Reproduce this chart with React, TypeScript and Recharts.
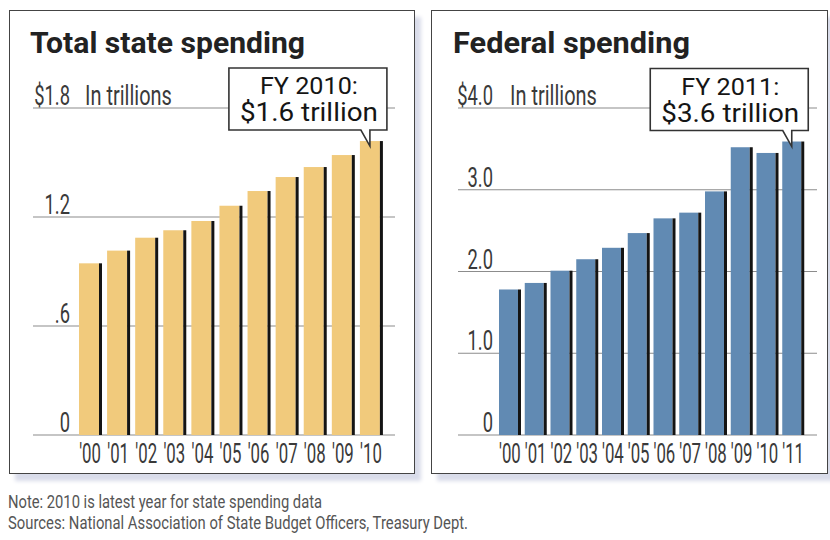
import React from "react";
import { BarChart, Bar, XAxis, YAxis, CartesianGrid } from "recharts";

// State spending, fiscal years 2000-2010, trillions of dollars
const STATE_YEARS = ["'00", "'01", "'02", "'03", "'04", "'05", "'06", "'07", "'08", "'09", "'10"];
const STATE_VALUES = [0.945, 1.015, 1.086, 1.127, 1.178, 1.262, 1.343, 1.42, 1.475, 1.541, 1.618];
const STATE_TICKS = [0, 0.6, 1.2, 1.8];
const STATE_TICK_LABELS = ["0", ".6", "1.2", "$1.8"];
const STATE_CALLOUT = ["FY 2010:", "$1.6 trillion"];

// Federal spending, fiscal years 2000-2011, trillions of dollars
const FED_YEARS = ["'00", "'01", "'02", "'03", "'04", "'05", "'06", "'07", "'08", "'09", "'10", "'11"];
const FED_VALUES = [1.78, 1.86, 2.01, 2.15, 2.29, 2.47, 2.65, 2.72, 2.98, 3.52, 3.45, 3.59];
const FED_TICKS = [0, 1, 2, 3, 4];
const FED_TICK_LABELS = ["0", "1.0", "2.0", "3.0", "$4.0"];
const FED_CALLOUT = ["FY 2011:", "$3.6 trillion"];

const UNIT_LABEL = "In trillions";
const NOTE = "Note: 2010 is latest year for state spending data";
const SOURCES = "Sources: National Association of State Budget Officers, Treasury Dept.";

const FONT = "Roboto, 'DejaVu Sans', sans-serif";
const TEXT = "#3a3a3a";

function SpendingChart(props: any) {
  const {
    years, values, ticks, tickLabels, domainMax, callout, color,
    left, width, height, margin, padding, barSize, labelRight,
  } = props;
  const data = years.map((year: string, i: number) => ({ year, value: values[i] }));
  const last = data.length - 1;

  const yTick = (p: any) => {
    const v = p.payload.value;
    const label = tickLabels[ticks.indexOf(v)];
    const isTop = v === ticks[ticks.length - 1];
    return (
      <g>
        <text
          transform={`translate(${p.x + labelRight},${p.y - 3}) scale(0.68,1)`}
          textAnchor="end"
          fontFamily={FONT}
          fontSize={27}
          fill={TEXT}
        >
          {label}
        </text>
        {isTop && (
          <text
            transform={`translate(${p.x + 52},${p.y - 3}) scale(0.74,1)`}
            fontFamily={FONT}
            fontSize={27}
            fill={TEXT}
          >
            {UNIT_LABEL}
          </text>
        )}
      </g>
    );
  };

  const xTick = (p: any) => (
    <text
      transform={`translate(${p.x},${p.y + 28}) scale(0.6,1)`}
      textAnchor="middle"
      fontFamily={FONT}
      fontSize={28}
      fill={TEXT}
    >
      {p.payload.value}
    </text>
  );

  const barShape = (p: any) => {
    const { x, y, width: w, height: h, index } = p;
    const edge = 3;
    let note = null;
    if (index === last) {
      const r = x + w + 4;
      const l = r - 158;
      const b = y - 11;
      const t = b - 62;
      const tipX = x + w / 2 - 1.5;
      const tipY = y + 5;
      const cx = (l + r) / 2 + 1;
      note = (
        <g>
          <path
            d={`M${l},${t} H${r} V${b} H${tipX} L${tipX},${tipY} L${tipX - 9},${b} H${l} Z`}
            fill="#fff"
            stroke="#333"
            strokeWidth={1.6}
          />
          <text x={cx} y={t + 26} textAnchor="middle" fontFamily={FONT} fontSize={24}
            fill="#151515" textLength={98} lengthAdjust="spacingAndGlyphs">
            {callout[0]}
          </text>
          <text x={cx} y={t + 53} textAnchor="middle" fontFamily={FONT} fontSize={25}
            fill="#151515" textLength={138} lengthAdjust="spacingAndGlyphs">
            {callout[1]}
          </text>
        </g>
      );
    }
    return (
      <g>
        <rect x={x} y={y} width={w - edge} height={h} fill={color} />
        <rect x={x + w - edge} y={y} width={edge} height={h} fill="#141414" />
        {note}
      </g>
    );
  };

  return (
    <div style={{ position: "absolute", left, top: 0 }}>
      <BarChart width={width} height={height} data={data} margin={margin}>
        <CartesianGrid vertical={false} stroke="#8c8c8c" strokeWidth={1.2} />
        <XAxis
          dataKey="year"
          axisLine={false}
          tickLine={false}
          tickSize={0}
          tickMargin={0}
          height={30}
          padding={padding}
          interval={0}
          tick={xTick}
        />
        <YAxis
          type="number"
          domain={[0, domainMax]}
          ticks={ticks}
          width={1}
          axisLine={false}
          tickLine={false}
          tickSize={0}
          tickMargin={0}
          interval={0}
          tick={yTick}
        />
        <Bar dataKey="value" barSize={barSize} isAnimationActive={false} shape={barShape} />
      </BarChart>
    </div>
  );
}

const panelStyle = (left: number, width: number): React.CSSProperties => ({
  position: "absolute",
  left,
  top: 10,
  width,
  height: 464,
  boxSizing: "border-box",
  border: "1.6px solid #444",
  background: "#fff",
  boxShadow: "6px 7px 4px #d9dcea",
});

export default function App() {
  return (
    <div style={{ position: "absolute", left: 0, top: 0, width: 830, height: 540, background: "#fff", overflow: "hidden" }}>
      <div style={panelStyle(9, 406)} />
      <div style={panelStyle(431, 397)} />

      <SpendingChart
        years={STATE_YEARS}
        values={STATE_VALUES}
        ticks={STATE_TICKS}
        tickLabels={STATE_TICK_LABELS}
        domainMax={1.8}
        callout={STATE_CALLOUT}
        color="#f1ca7c"
        left={0}
        width={420}
        height={480}
        margin={{ top: 108, right: 25, bottom: 15, left: 32 }}
        padding={{ left: 43, right: 10 }}
        barSize={23}
        labelRight={37}
      />
      <SpendingChart
        years={FED_YEARS}
        values={FED_VALUES}
        ticks={FED_TICKS}
        tickLabels={FED_TICK_LABELS}
        domainMax={4}
        callout={FED_CALLOUT}
        color="#618ab3"
        left={420}
        width={410}
        height={480}
        margin={{ top: 108, right: 13, bottom: 15, left: 37 }}
        padding={{ left: 39, right: 11 }}
        barSize={22}
        labelRight={35}
      />

      <svg width={830} height={540} style={{ position: "absolute", left: 0, top: 0, pointerEvents: "none" }}>
        <text x={30} y={53} fontFamily={FONT} fontWeight={700} fontSize={29} fill="#222"
          textLength={275} lengthAdjust="spacingAndGlyphs">
          Total state spending
        </text>
        <text x={453} y={53} fontFamily={FONT} fontWeight={700} fontSize={29} fill="#222"
          textLength={237} lengthAdjust="spacingAndGlyphs">
          Federal spending
        </text>
        <text x={8} y={508} fontFamily={FONT} fontSize={19} fill="#555" textLength={314} lengthAdjust="spacingAndGlyphs">
          {NOTE}
        </text>
        <text x={8} y={529} fontFamily={FONT} fontSize={19} fill="#555" textLength={460} lengthAdjust="spacingAndGlyphs">
          {SOURCES}
        </text>
      </svg>
    </div>
  );
}
